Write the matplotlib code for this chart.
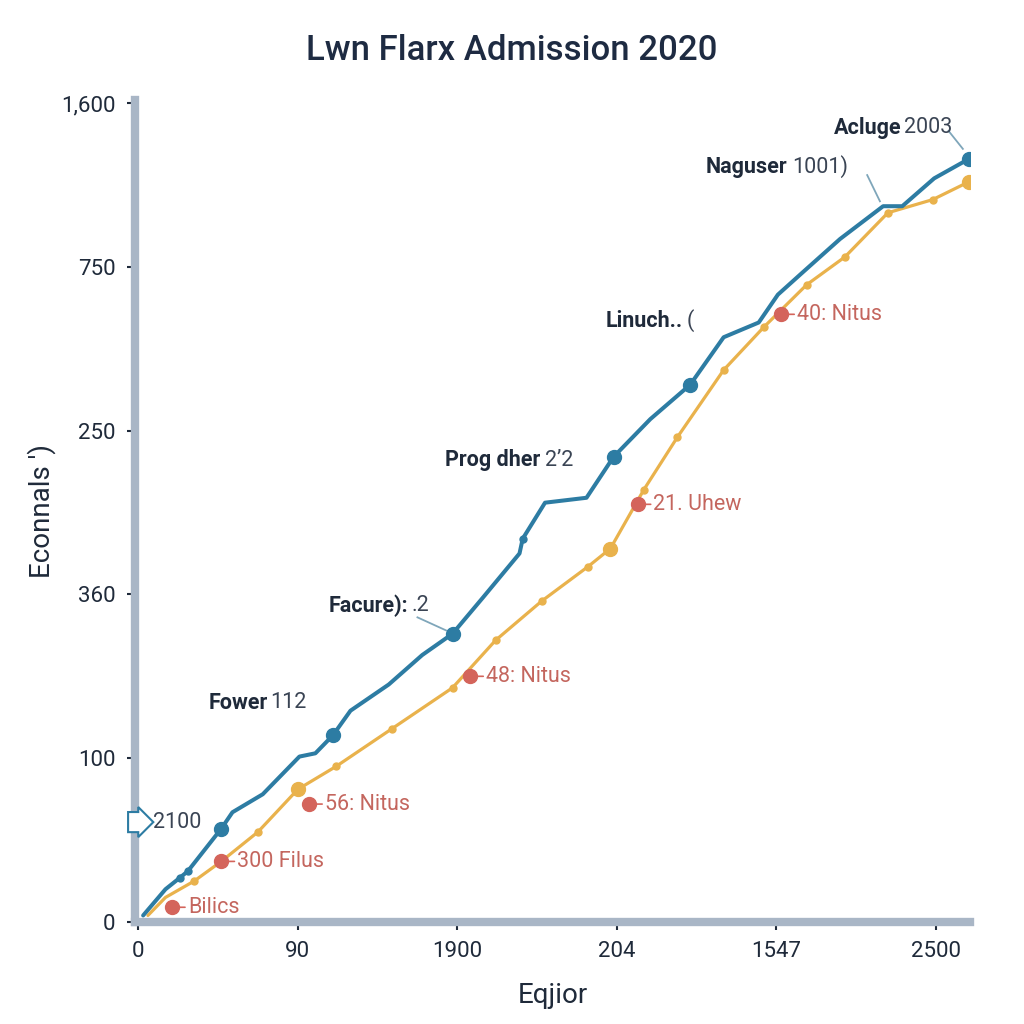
import matplotlib
matplotlib.use("Agg")
import matplotlib.pyplot as plt

plt.rcParams["font.family"] = ["Roboto", "DejaVu Sans"]

# tick positions / labels
x_labels = ["0", "90", "1900", "204", "1547", "2500"]
y_labels = ["0", "100", "360", "250", "750", "1,600"]

# blue series
blue_x = [0.03, 0.17, 0.26, 0.31, 0.52, 0.59, 0.78, 1.01, 1.11, 1.22, 1.33, 1.57, 1.78,
          1.97, 2.16, 2.39, 2.41, 2.55, 2.81, 2.98, 3.21, 3.46, 3.67, 3.89, 4.01, 4.17,
          4.40, 4.67, 4.79, 4.99, 5.21]
blue_y = [0.04, 0.20, 0.27, 0.31, 0.57, 0.67, 0.78, 1.01, 1.03, 1.14, 1.29, 1.45, 1.63,
          1.76, 1.98, 2.25, 2.34, 2.56, 2.59, 2.84, 3.07, 3.28, 3.57, 3.66, 3.83, 3.97,
          4.17, 4.37, 4.37, 4.54, 4.66]
blue_big = [4, 9, 13, 19, 21, 30]
blue_small = [2, 3, 16]

# orange series
orange_x = [0.06, 0.17, 0.35, 0.52, 0.75, 1.00, 1.24, 1.59, 1.97, 2.24, 2.53, 2.82, 2.96,
            3.17, 3.38, 3.67, 3.92, 4.19, 4.43, 4.70, 4.98, 5.21]
orange_y = [0.04, 0.15, 0.25, 0.37, 0.55, 0.81, 0.95, 1.18, 1.43, 1.72, 1.96, 2.17, 2.28,
            2.64, 2.96, 3.37, 3.63, 3.89, 4.06, 4.33, 4.41, 4.52]
orange_big = [5, 12, 21]
orange_small = [2, 4, 6, 7, 8, 9, 10, 11, 13, 14, 15, 16, 17, 18, 19, 20]

# red callouts
red_x = [0.21, 0.52, 1.07, 2.08, 3.13, 4.03]
red_y = [0.09, 0.37, 0.72, 1.50, 2.55, 3.71]
red_text = ["Bilics", "300 Filus", "56: Nitus", "48: Nitus", "21. Uhew", "40: Nitus"]

BLUE = "#2d7ca3"
ORANGE = "#e9b24c"
RED = "#d4645b"
RED_TXT = "#c4665e"
SPINE = "#a9b6c6"
DARK = "#1f2a3a"

fig = plt.figure(figsize=(10.24, 10.24), dpi=100)
ax = fig.add_axes([0.132, 0.0996, 0.815, 0.803])

ax.plot(orange_x, orange_y, color=ORANGE, lw=2.3, zorder=3, solid_capstyle="round")
ax.plot([orange_x[i] for i in orange_small], [orange_y[i] for i in orange_small],
        "o", color=ORANGE, ms=5, zorder=4)
ax.plot([orange_x[i] for i in orange_big], [orange_y[i] for i in orange_big],
        "o", color=ORANGE, ms=10, zorder=4)

ax.plot(blue_x, blue_y, color=BLUE, lw=2.9, zorder=5, solid_capstyle="round")
ax.plot([blue_x[i] for i in blue_small], [blue_y[i] for i in blue_small],
        "o", color=BLUE, ms=5, zorder=6)
ax.plot([blue_x[i] for i in blue_big], [blue_y[i] for i in blue_big],
        "o", color=BLUE, ms=10, zorder=6)

for x, y, t in zip(red_x, red_y, red_text):
    ax.plot(x, y, "o", color=RED, ms=10, zorder=7)
    ax.annotate(t, xy=(x, y), xytext=(x + 0.1, y), fontsize=15.5, color=RED_TXT,
                va="center", ha="left", zorder=7,
                arrowprops=dict(arrowstyle="-", color=RED, lw=1.2, shrinkA=0, shrinkB=0))

fig.canvas.draw()


# dark callouts: bold word then lighter rest
def label(x, y, bold, rest, size=15.5):
    t = ax.text(x, y, bold, fontsize=size, fontweight="bold", color=DARK,
                ha="left", va="center", zorder=8)
    bb = t.get_window_extent(renderer=fig.canvas.get_renderer())
    x2 = ax.transData.inverted().transform((bb.x1 - 3, 0))[0]
    ax.text(x2, y, rest, fontsize=size, color="#3a4454", ha="left", va="center", zorder=8)


label(0.44, 1.34, "Fower", "112")
label(1.19, 1.93, "Facure):", ".2")
label(1.92, 2.82, "Prog dher", "2ʼ2")
label(2.93, 3.67, "Linuch..", "(")
label(3.56, 4.61, "Naguser", "1001)")
label(4.36, 4.85, "Acluge", "2003")

lead = "#7fa6ba"
ax.plot([1.75, 1.93], [1.86, 1.78], color=lead, lw=1.3, zorder=4)
ax.plot([4.57, 4.65], [4.56, 4.40], color=lead, lw=1.3, zorder=4)
ax.plot([5.08, 5.17], [4.83, 4.72], color=lead, lw=1.3, zorder=4)

ax.text(-0.01, 0.61, "   ", fontsize=11, ha="center", va="center", clip_on=False, zorder=8,
        bbox=dict(boxstyle="rarrow,pad=0.2", fc="white", ec=BLUE, lw=1.5))
ax.text(0.09, 0.61, "2100", fontsize=15.5, color="#3a4454", ha="left", va="center")

ax.set_xlim(-0.02, 5.213)
ax.set_ylim(0, 5.02)
ax.set_xticks(range(6))
ax.set_xticklabels(x_labels)
ax.set_yticks(range(6))
ax.set_yticklabels(y_labels)
ax.tick_params(axis="both", labelsize=16, colors=DARK, length=6, width=1.5, pad=8)

for s in ["top", "right"]:
    ax.spines[s].set_visible(False)
for s in ["left", "bottom"]:
    ax.spines[s].set_color(SPINE)
    ax.spines[s].set_linewidth(6)
    ax.spines[s].set_zorder(2)

ax.set_xlabel("Eqjior", fontsize=20, color=DARK, labelpad=14)
ax.set_ylabel("Econnals ')", fontsize=20, color=DARK)
ax.yaxis.set_label_coords(-0.095, 0.5)
fig.suptitle("Lwn Flarx Admission 2020", fontsize=25, fontweight="medium",
             color="#1e2b42", y=0.967)

fig.savefig("out.png", dpi=100)
